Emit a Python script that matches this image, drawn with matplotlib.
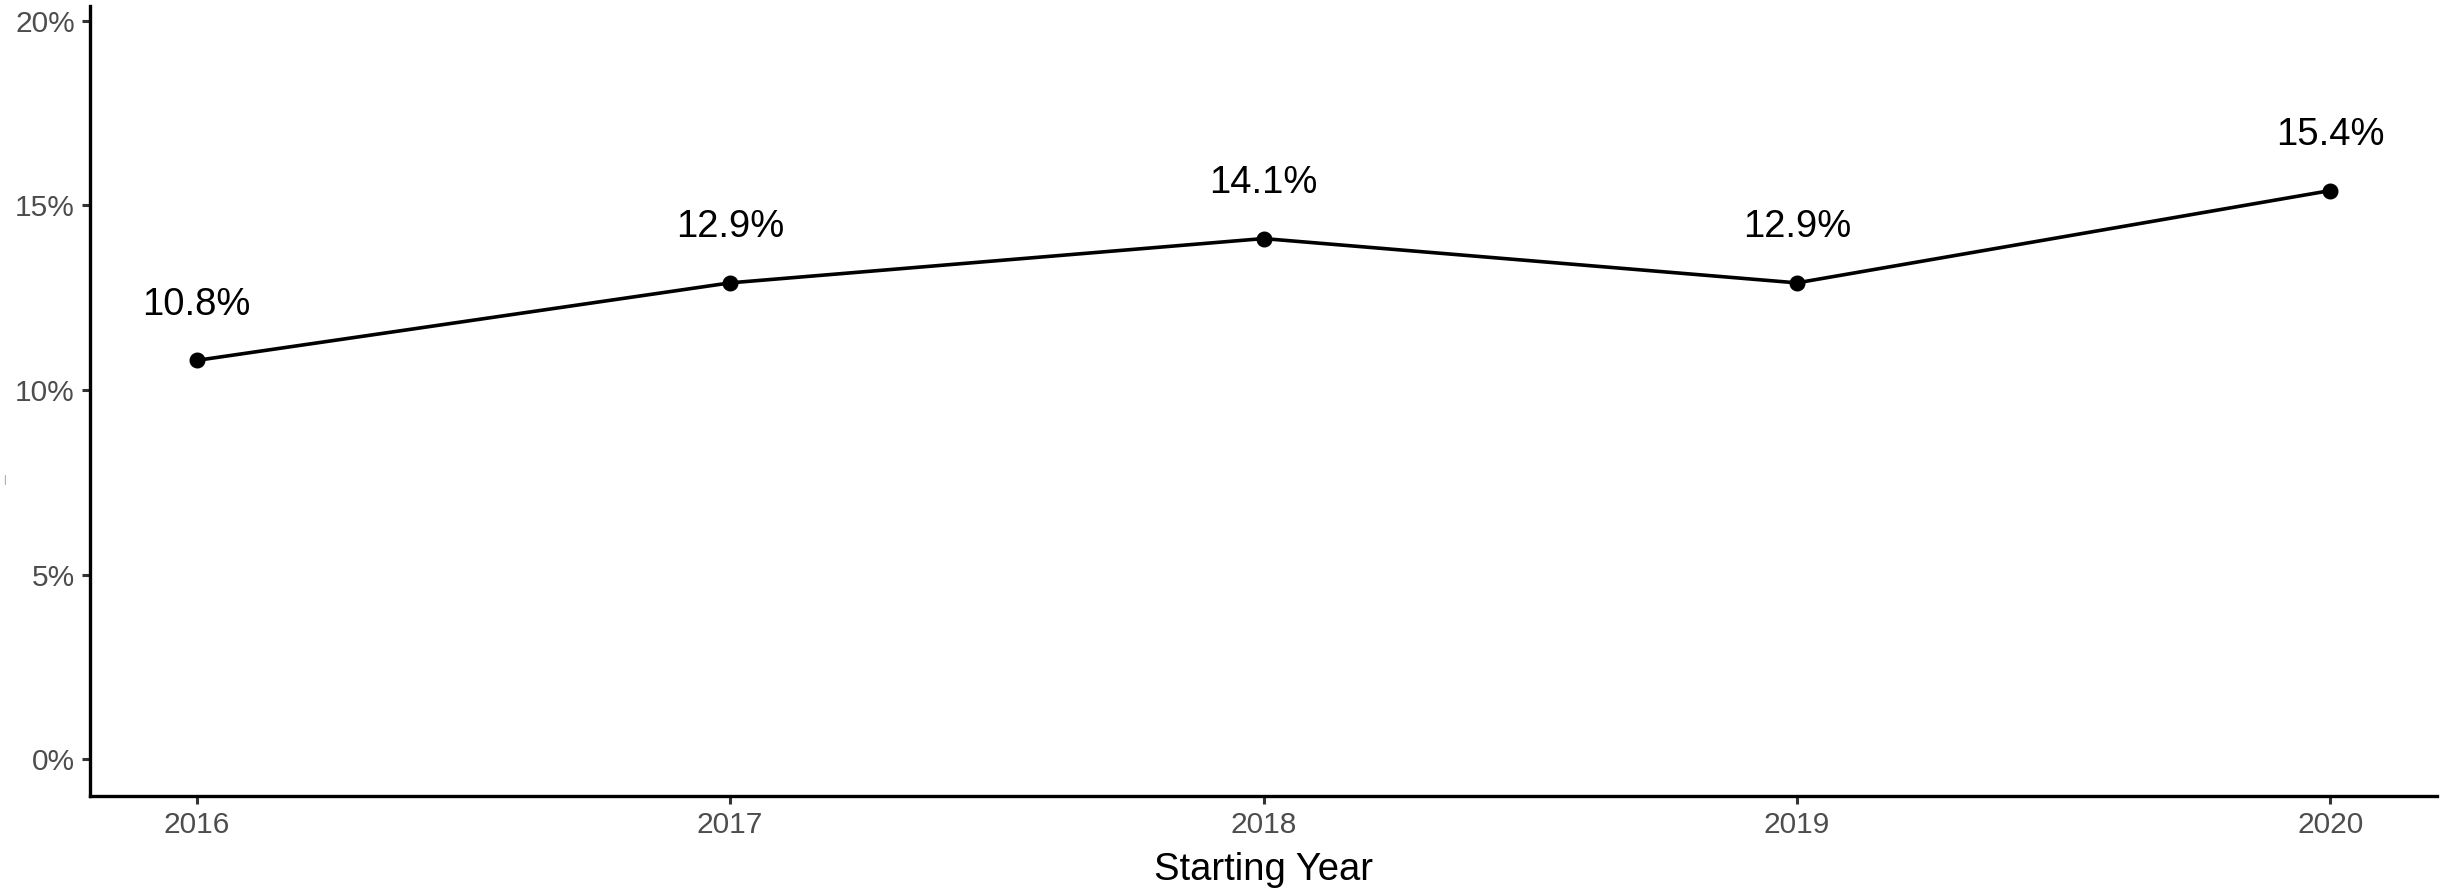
import matplotlib
matplotlib.use("Agg")
import matplotlib.pyplot as plt
from matplotlib.ticker import FuncFormatter

years = [2016, 2017, 2018, 2019, 2020]
rates = [10.8, 12.9, 14.1, 12.9, 15.4]
labels = ["10.8%", "12.9%", "14.1%", "12.9%", "15.4%"]
y_ticks = [0, 5, 10, 15, 20]

plt.rcParams['font.family'] = ['Liberation Sans', 'DejaVu Sans']

fig = plt.figure(figsize=(24.47, 8.93), dpi=100)
ax = fig.add_axes([0.0368, 0.1086, 0.9591, 0.8847])

ax.plot(years, rates, color='black', linewidth=2.6, marker='o', markersize=10.5)
for x, y, t in zip(years, rates, labels):
    ax.text(x, y + 1.5, t, ha='center', va='center', fontsize=27.5, color='black')

ax.set_xlim(2015.8, 2020.2)
ax.set_ylim(-1, 20.4)
ax.set_xticks(years)
ax.set_yticks(y_ticks)
ax.yaxis.set_major_formatter(FuncFormatter(lambda v, p: f"{v:.0f}%"))

for side in ['top', 'right']:
    ax.spines[side].set_visible(False)
for side in ['left', 'bottom']:
    ax.spines[side].set_linewidth(2.4)
    ax.spines[side].set_color('black')

ax.tick_params(axis='both', length=6, width=2.2, color='#333333',
               labelsize=21.5, labelcolor='#4D4D4D', pad=5)
ax.set_xlabel("Starting Year", fontsize=27.5, color='black', labelpad=9)

# tiny leftover mark from the blank y-axis title
fig.text(0.0012, 0.462, "|", fontsize=7, color='#888888', ha='left', va='center')

fig.savefig("out.png", dpi=100)
